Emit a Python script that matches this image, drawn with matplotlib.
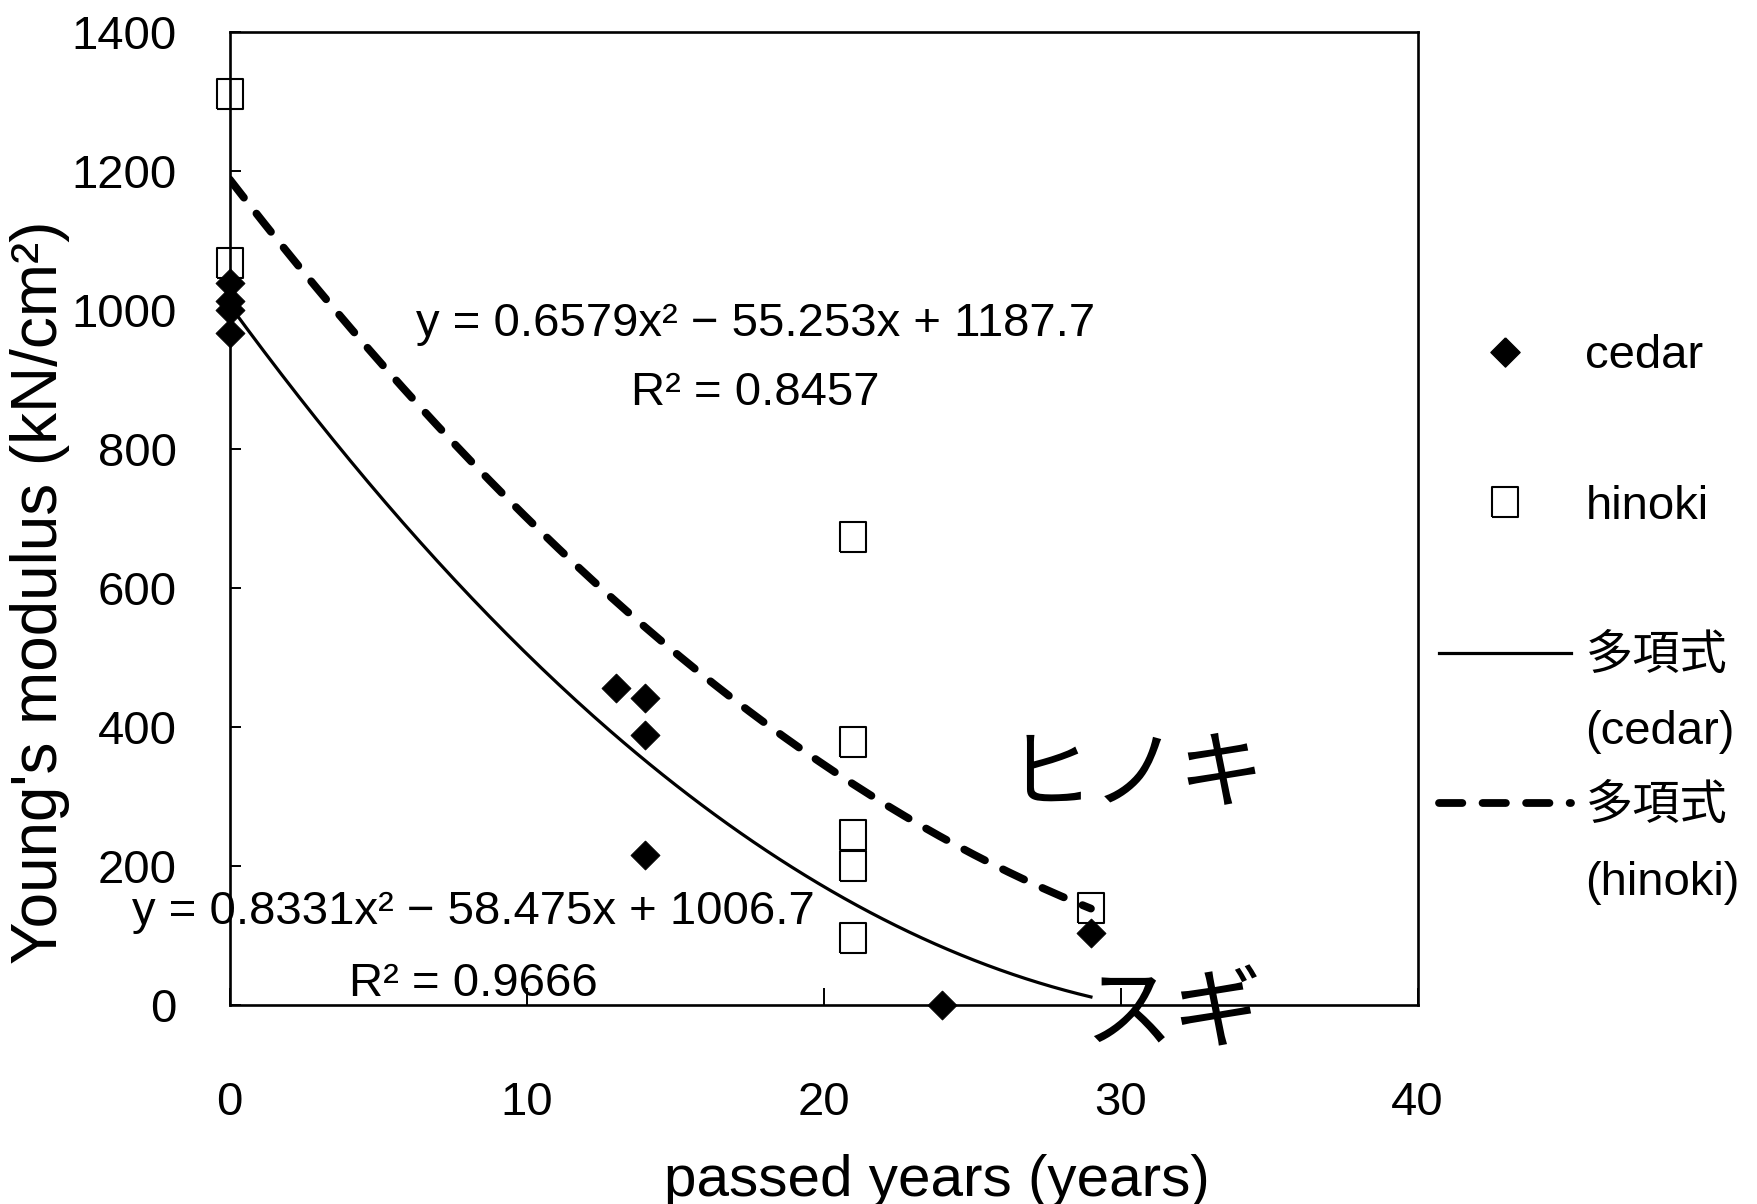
import matplotlib
matplotlib.use("Agg")
import matplotlib.pyplot as plt
import numpy as np
from matplotlib.lines import Line2D

plt.rcParams['font.family'] = ['Liberation Sans', 'Noto Sans CJK JP', 'DejaVu Sans']

# measured points
cedar_x = [0, 0, 0, 0, 13, 14, 14, 14, 24, 29]
cedar_y = [1039, 1013, 999, 966, 456, 441, 388, 216, 0, 103]
hinoki_x = [0, 0, 21, 21, 21, 21, 21, 29]
hinoki_y = [1311, 1067, 673, 378, 244, 200, 96, 139]

# trendline coefficients as printed on the chart (a, b, c)
cedar_fit = [0.8331, -58.475, 1006.7]
hinoki_fit = [0.6579, -55.253, 1187.7]
cedar_eq = "y = 0.8331x² − 58.475x + 1006.7\nR² = 0.9666"
hinoki_eq = "y = 0.6579x² − 55.253x + 1187.7\nR² = 0.8457"

x_ticks = [0, 10, 20, 30, 40]
y_ticks = [0, 200, 400, 600, 800, 1000, 1200, 1400]

diamond = [(0, 1), (1, 0), (0, -1), (-1, 0), (0, 1)]
rect = [(-0.84, -1), (0.84, -1), (0.84, 1), (-0.84, 1), (-0.84, -1)]
dash = (0, (3.0, 2.6))

fig = plt.figure(figsize=(17.58, 12.04), dpi=100)
ax = fig.add_axes([0.1306, 0.1653, 0.6758, 0.8084])

xs = np.linspace(0, 29, 200)
ax.plot(xs, np.polyval(cedar_fit, xs), color="black", lw=2.3, zorder=2)
ax.plot(xs, np.polyval(hinoki_fit, xs), color="black", lw=5.6, zorder=2,
        linestyle=dash, dash_capstyle="round")

ax.plot(cedar_x, cedar_y, linestyle="none", marker=diamond, ms=21,
        mfc="black", mec="black", mew=0.5, clip_on=False, zorder=3)
ax.plot(hinoki_x, hinoki_y, linestyle="none", marker=rect, ms=22,
        mfc="none", mec="black", mew=1.5, clip_on=False, zorder=3)

ax.set_xlim(0, 40)
ax.set_ylim(0, 1400)
ax.set_xticks(x_ticks)
ax.set_yticks(y_ticks)
ax.tick_params(axis="x", direction="in", length=12, width=1.4, pad=55, labelsize=34)
ax.tick_params(axis="y", direction="in", length=8, width=1.4, pad=38, labelsize=34)
for s in ax.spines.values():
    s.set_linewidth(1.9)

ax.set_xlabel("passed years (years)", fontsize=42)
ax.xaxis.set_label_coords(0.595, -0.153)
ax.set_ylabel("Young's modulus (kN/cm²)", fontsize=46)
ax.yaxis.set_label_coords(-0.134, 0.424)

ax.text(17.7, 930, hinoki_eq, ha="center", va="center", fontsize=34,
        linespacing=1.75)
ax.text(8.2, 82, cedar_eq, ha="center", va="center", fontsize=34,
        linespacing=1.8)

ax.text(30.5, 330, "ヒノキ", ha="center", va="center", fontsize=62,
        family="Noto Sans CJK JP")
ax.text(31.75, -14, "スギ", ha="center", va="center", fontsize=64,
        family="Noto Sans CJK JP")

blank = Line2D([], [], linestyle="none")
handles = [
    Line2D([], [], linestyle="none", marker=diamond, ms=21, mfc="black", mec="black"),
    blank,
    Line2D([], [], linestyle="none", marker=rect, ms=22, mfc="none", mec="black", mew=1.5),
    blank,
    Line2D([], [], color="black", lw=2.3),
    blank,
    Line2D([], [], color="black", lw=5.6, linestyle=dash, dash_capstyle="round"),
    blank,
]
labels = ["cedar", " ", "hinoki", " ", "多項式", "(cedar)", "多項式", "(hinoki)"]
ax.legend(handles, labels, loc="upper left", bbox_to_anchor=(1.018, 0.689),
          frameon=False, fontsize=34, borderpad=0, borderaxespad=0,
          handlelength=2.8, handletextpad=0.3, labelspacing=0.66)

fig.savefig("out.png", dpi=100)
